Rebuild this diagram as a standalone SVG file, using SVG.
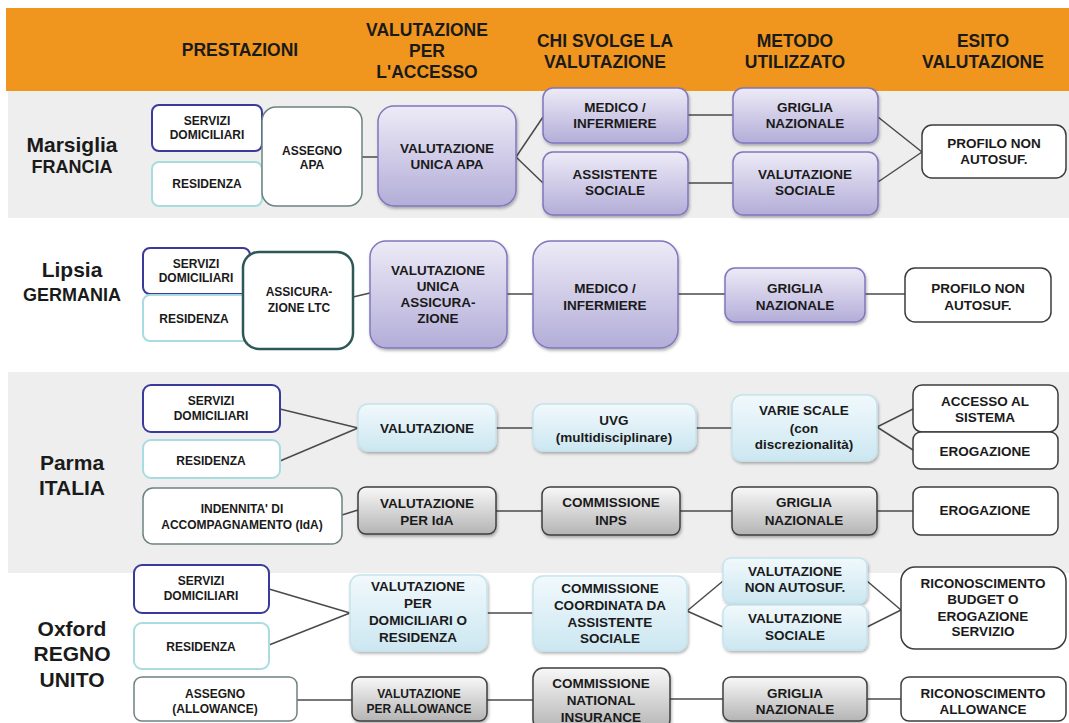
<svg xmlns="http://www.w3.org/2000/svg" width="1069" height="723" viewBox="0 0 1069 723">
<defs>
<linearGradient id="gPur" x1="0" y1="0" x2="0" y2="1"><stop offset="0" stop-color="#EDEBF7"/><stop offset="1" stop-color="#B3ADD8"/></linearGradient>
<linearGradient id="gBlu" x1="0" y1="0" x2="0" y2="1"><stop offset="0" stop-color="#F1F9FC"/><stop offset="1" stop-color="#CCE7F1"/></linearGradient>
<linearGradient id="gGry" x1="0" y1="0" x2="0" y2="1"><stop offset="0" stop-color="#F8F8F8"/><stop offset="1" stop-color="#B4B4B4"/></linearGradient>
<filter id="sh" x="-10%" y="-10%" width="125%" height="130%"><feDropShadow dx="1" dy="2" stdDeviation="1.5" flood-color="#000" flood-opacity="0.3"/></filter>
<style>
text{font-family:"Liberation Sans",Arial,sans-serif;font-weight:bold;fill:#1A1A1A;text-anchor:middle}
.h{font-size:17.5px}
.c{font-size:21px}
.k{font-size:18px}
.t{font-size:13.5px}
.s{font-size:12px}
.pur{fill:url(#gPur);stroke:#7F77BD;stroke-width:1.5;filter:url(#sh)}
.blu{fill:url(#gBlu);stroke:#C6E3ED;stroke-width:1.5;filter:url(#sh)}
.gry{fill:url(#gGry);stroke:#3F3F3F;stroke-width:1.5;filter:url(#sh)}
.out{fill:#fff;stroke:#3C3C3C;stroke-width:1.5}
.dblu{fill:#fff;stroke:#3A3A9C;stroke-width:2}
.tea{fill:#fff;stroke:#A8DCE0;stroke-width:2}
.gtl{fill:#fff;stroke:#6E8282;stroke-width:1.5}
.ltc{fill:#fff;stroke:#2E5858;stroke-width:2.5}
.cn line{stroke:#4A4A4A;stroke-width:1.5}
</style>
</defs>
<rect x="0" y="0" width="1069" height="723" fill="#fff"/>
<rect x="6" y="8" width="1063" height="83" fill="#F0961E"/>
<rect x="8" y="91" width="1061" height="127" fill="#EEEEEE"/>
<rect x="8" y="372" width="1061" height="201" fill="#EEEEEE"/>
<g id="header">
<text class="h" x="240" y="56">PRESTAZIONI</text>
<text class="h" x="427" y="36">VALUTAZIONE</text>
<text class="h" x="427" y="57">PER</text>
<text class="h" x="427" y="78">L'ACCESSO</text>
<text class="h" x="605" y="47">CHI SVOLGE LA</text>
<text class="h" x="605" y="68">VALUTAZIONE</text>
<text class="h" x="795" y="47">METODO</text>
<text class="h" x="795" y="68">UTILIZZATO</text>
<text class="h" x="983" y="47">ESITO</text>
<text class="h" x="983" y="68">VALUTAZIONE</text>
</g>
<g id="cities">
<text class="c" x="72" y="152">Marsiglia</text>
<text class="k" x="72" y="173">FRANCIA</text>
<text class="c" x="72" y="277">Lipsia</text>
<text class="k" x="72" y="301">GERMANIA</text>
<text class="c" x="72" y="470">Parma</text>
<text class="c" x="72" y="495">ITALIA</text>
<text class="c" x="72" y="636">Oxford</text>
<text class="c" x="72" y="661">REGNO</text>
<text class="c" x="72" y="687">UNITO</text>
</g>
<g id="connectors" class="cn">
<line x1="362" y1="157" x2="378" y2="157"/>
<line x1="516" y1="157" x2="543" y2="117"/>
<line x1="516" y1="157" x2="543" y2="183"/>
<line x1="688" y1="115" x2="733" y2="115"/>
<line x1="688" y1="183" x2="733" y2="183"/>
<line x1="878" y1="117" x2="922" y2="152"/>
<line x1="878" y1="182" x2="922" y2="152"/>
<line x1="353" y1="297" x2="370" y2="293"/>
<line x1="507" y1="294" x2="533" y2="294"/>
<line x1="678" y1="294" x2="725" y2="294"/>
<line x1="865" y1="294" x2="905" y2="294"/>
<line x1="280" y1="409" x2="358" y2="428"/>
<line x1="280" y1="461" x2="358" y2="428"/>
<line x1="496" y1="428" x2="533" y2="428"/>
<line x1="696" y1="428" x2="732" y2="428"/>
<line x1="877" y1="427" x2="913" y2="409"/>
<line x1="877" y1="427" x2="913" y2="450"/>
<line x1="342" y1="515" x2="358" y2="510"/>
<line x1="496" y1="511" x2="542" y2="511"/>
<line x1="680" y1="511" x2="732" y2="511"/>
<line x1="877" y1="511" x2="913" y2="511"/>
<line x1="269" y1="589" x2="350" y2="613"/>
<line x1="269" y1="645" x2="350" y2="613"/>
<line x1="487" y1="613" x2="533" y2="613"/>
<line x1="687" y1="611" x2="723" y2="581"/>
<line x1="687" y1="611" x2="723" y2="627"/>
<line x1="867" y1="581" x2="901" y2="610"/>
<line x1="867" y1="627" x2="901" y2="610"/>
<line x1="297" y1="700" x2="352" y2="700"/>
<line x1="487" y1="700" x2="533" y2="700"/>
<line x1="670" y1="699" x2="723" y2="699"/>
<line x1="867" y1="699" x2="901" y2="699"/>
</g>
<!-- Marsiglia -->
<g id="m_serv"><rect class="dblu" x="152" y="105" width="110" height="46" rx="7"/><text class="s" x="207" y="125">SERVIZI</text><text class="s" x="207" y="139">DOMICILIARI</text></g>
<g id="m_res"><rect class="tea" x="152" y="162" width="110" height="44" rx="7"/><text class="s" x="207" y="188">RESIDENZA</text></g>
<g id="m_assegno"><rect class="gtl" x="262" y="107" width="100" height="99" rx="14"/><text class="s" x="312" y="155">ASSEGNO</text><text class="s" x="312" y="169">APA</text></g>
<g id="m_val"><rect class="pur" x="378" y="106" width="138" height="100" rx="16"/><text class="t" x="447" y="153">VALUTAZIONE</text><text class="t" x="447" y="169">UNICA APA</text></g>
<g id="m_medico"><rect class="pur" x="543" y="88" width="145" height="55" rx="10"/><text class="t" x="615" y="112">MEDICO /</text><text class="t" x="615" y="128">INFERMIERE</text></g>
<g id="m_assist"><rect class="pur" x="543" y="152" width="145" height="63" rx="10"/><text class="t" x="615" y="179">ASSISTENTE</text><text class="t" x="615" y="195">SOCIALE</text></g>
<g id="m_griglia"><rect class="pur" x="733" y="88" width="145" height="55" rx="10"/><text class="t" x="805" y="112">GRIGLIA</text><text class="t" x="805" y="128">NAZIONALE</text></g>
<g id="m_valsoc"><rect class="pur" x="733" y="152" width="145" height="63" rx="10"/><text class="t" x="805" y="179">VALUTAZIONE</text><text class="t" x="805" y="195">SOCIALE</text></g>
<g id="m_profilo"><rect class="out" x="922" y="125" width="144" height="53" rx="10"/><text class="t" x="994" y="148">PROFILO NON</text><text class="t" x="994" y="164">AUTOSUF.</text></g>
<!-- Lipsia -->
<g id="l_serv"><rect class="dblu" x="143" y="248" width="107" height="46" rx="7"/><text class="s" x="196" y="268">SERVIZI</text><text class="s" x="196" y="282">DOMICILIARI</text></g>
<g id="l_res"><rect class="tea" x="143" y="295" width="107" height="46" rx="7"/><text class="s" x="194" y="323">RESIDENZA</text></g>
<g id="l_ass"><rect class="ltc" x="243" y="252" width="110" height="97" rx="16"/><text class="s" x="299" y="296">ASSICURA-</text><text class="s" x="299" y="312">ZIONE LTC</text></g>
<g id="l_val"><rect class="pur" x="370" y="241" width="137" height="107" rx="16"/><text class="t" x="438" y="275">VALUTAZIONE</text><text class="t" x="438" y="291">UNICA</text><text class="t" x="438" y="307">ASSICURA-</text><text class="t" x="438" y="323">ZIONE</text></g>
<g id="l_medico"><rect class="pur" x="533" y="241" width="145" height="107" rx="18"/><text class="t" x="605" y="293">MEDICO /</text><text class="t" x="605" y="310">INFERMIERE</text></g>
<g id="l_griglia"><rect class="pur" x="725" y="268" width="140" height="54" rx="10"/><text class="t" x="795" y="293">GRIGLIA</text><text class="t" x="795" y="310">NAZIONALE</text></g>
<g id="l_profilo"><rect class="out" x="905" y="268" width="146" height="54" rx="10"/><text class="t" x="978" y="293">PROFILO NON</text><text class="t" x="978" y="310">AUTOSUF.</text></g>
<!-- Parma -->
<g id="p_serv"><rect class="dblu" x="143" y="385" width="137" height="47" rx="8"/><text class="s" x="211" y="405">SERVIZI</text><text class="s" x="211" y="420">DOMICILIARI</text></g>
<g id="p_res"><rect class="tea" x="143" y="440" width="137" height="38" rx="8"/><text class="s" x="211" y="465">RESIDENZA</text></g>
<g id="p_val"><rect class="blu" x="358" y="404" width="138" height="47" rx="10"/><text class="t" x="427" y="433">VALUTAZIONE</text></g>
<g id="p_uvg"><rect class="blu" x="533" y="404" width="163" height="47" rx="10"/><text class="t" x="614" y="425">UVG</text><text class="t" x="614" y="442">(multidisciplinare)</text></g>
<g id="p_varie"><rect class="blu" x="732" y="395" width="145" height="66" rx="10"/><text class="t" x="804" y="415">VARIE SCALE</text><text class="t" x="804" y="433">(con</text><text class="t" x="804" y="449">discrezionalità)</text></g>
<g id="p_accesso"><rect class="out" x="913" y="385" width="145" height="47" rx="9"/><text class="t" x="985" y="406">ACCESSO AL</text><text class="t" x="985" y="422">SISTEMA</text></g>
<g id="p_erog1"><rect class="out" x="913" y="432" width="145" height="37" rx="8"/><text class="t" x="985" y="456">EROGAZIONE</text></g>
<g id="p_inda"><rect class="gtl" x="143" y="488" width="199" height="56" rx="10"/><text class="s" x="242" y="513">INDENNITA' DI</text><text class="s" x="242" y="529">ACCOMPAGNAMENTO (IdA)</text></g>
<g id="p_validA"><rect class="gry" x="358" y="487" width="138" height="47" rx="8"/><text class="t" x="427" y="508">VALUTAZIONE</text><text class="t" x="427" y="525">PER IdA</text></g>
<g id="p_inps"><rect class="gry" x="542" y="487" width="138" height="48" rx="8"/><text class="t" x="611" y="507">COMMISSIONE</text><text class="t" x="611" y="525">INPS</text></g>
<g id="p_griglia"><rect class="gry" x="732" y="487" width="145" height="48" rx="8"/><text class="t" x="804" y="507">GRIGLIA</text><text class="t" x="804" y="525">NAZIONALE</text></g>
<g id="p_erog2"><rect class="out" x="913" y="487" width="145" height="48" rx="8"/><text class="t" x="985" y="515">EROGAZIONE</text></g>
<!-- Oxford -->
<g id="o_serv"><rect class="dblu" x="134" y="565" width="135" height="48" rx="8"/><text class="s" x="201" y="585">SERVIZI</text><text class="s" x="201" y="600">DOMICILIARI</text></g>
<g id="o_res"><rect class="tea" x="134" y="623" width="135" height="46" rx="8"/><text class="s" x="201" y="651">RESIDENZA</text></g>
<g id="o_val"><rect class="blu" x="350" y="575" width="137" height="76" rx="10"/><text class="t" x="418" y="591">VALUTAZIONE</text><text class="t" x="418" y="608">PER</text><text class="t" x="418" y="625">DOMICILIARI O</text><text class="t" x="418" y="642">RESIDENZA</text></g>
<g id="o_comm"><rect class="blu" x="533" y="576" width="154" height="75" rx="10"/><text class="t" x="610" y="593">COMMISSIONE</text><text class="t" x="610" y="610">COORDINATA DA</text><text class="t" x="610" y="627">ASSISTENTE</text><text class="t" x="610" y="643">SOCIALE</text></g>
<g id="o_valnon"><rect class="blu" x="723" y="558" width="144" height="45" rx="8"/><text class="t" x="795" y="576">VALUTAZIONE</text><text class="t" x="795" y="592">NON AUTOSUF.</text></g>
<g id="o_valsoc"><rect class="blu" x="723" y="605" width="144" height="45" rx="8"/><text class="t" x="795" y="623">VALUTAZIONE</text><text class="t" x="795" y="640">SOCIALE</text></g>
<g id="o_ricon"><rect class="out" x="901" y="567" width="165" height="82" rx="14"/><text class="t" x="983" y="588">RICONOSCIMENTO</text><text class="t" x="983" y="604">BUDGET O</text><text class="t" x="983" y="621">EROGAZIONE</text><text class="t" x="983" y="636">SERVIZIO</text></g>
<g id="o_allow"><rect class="gtl" x="134" y="677" width="163" height="44" rx="8"/><text class="s" x="215" y="698">ASSEGNO</text><text class="s" x="215" y="713">(ALLOWANCE)</text></g>
<g id="o_valallow"><rect class="gry" x="352" y="677" width="135" height="44" rx="8"/><text class="s" x="419" y="698">VALUTAZIONE</text><text class="s" x="419" y="713">PER ALLOWANCE</text></g>
<g id="o_natins"><rect class="gry" x="533" y="668" width="137" height="62" rx="10"/><text class="t" x="601" y="688">COMMISSIONE</text><text class="t" x="601" y="705">NATIONAL</text><text class="t" x="601" y="722">INSURANCE</text></g>
<g id="o_griglia"><rect class="gry" x="723" y="677" width="144" height="44" rx="8"/><text class="t" x="795" y="698">GRIGLIA</text><text class="t" x="795" y="714">NAZIONALE</text></g>
<g id="o_ricon2"><rect class="out" x="901" y="677" width="165" height="44" rx="8"/><text class="t" x="983" y="698">RICONOSCIMENTO</text><text class="t" x="983" y="714">ALLOWANCE</text></g>
</svg>
